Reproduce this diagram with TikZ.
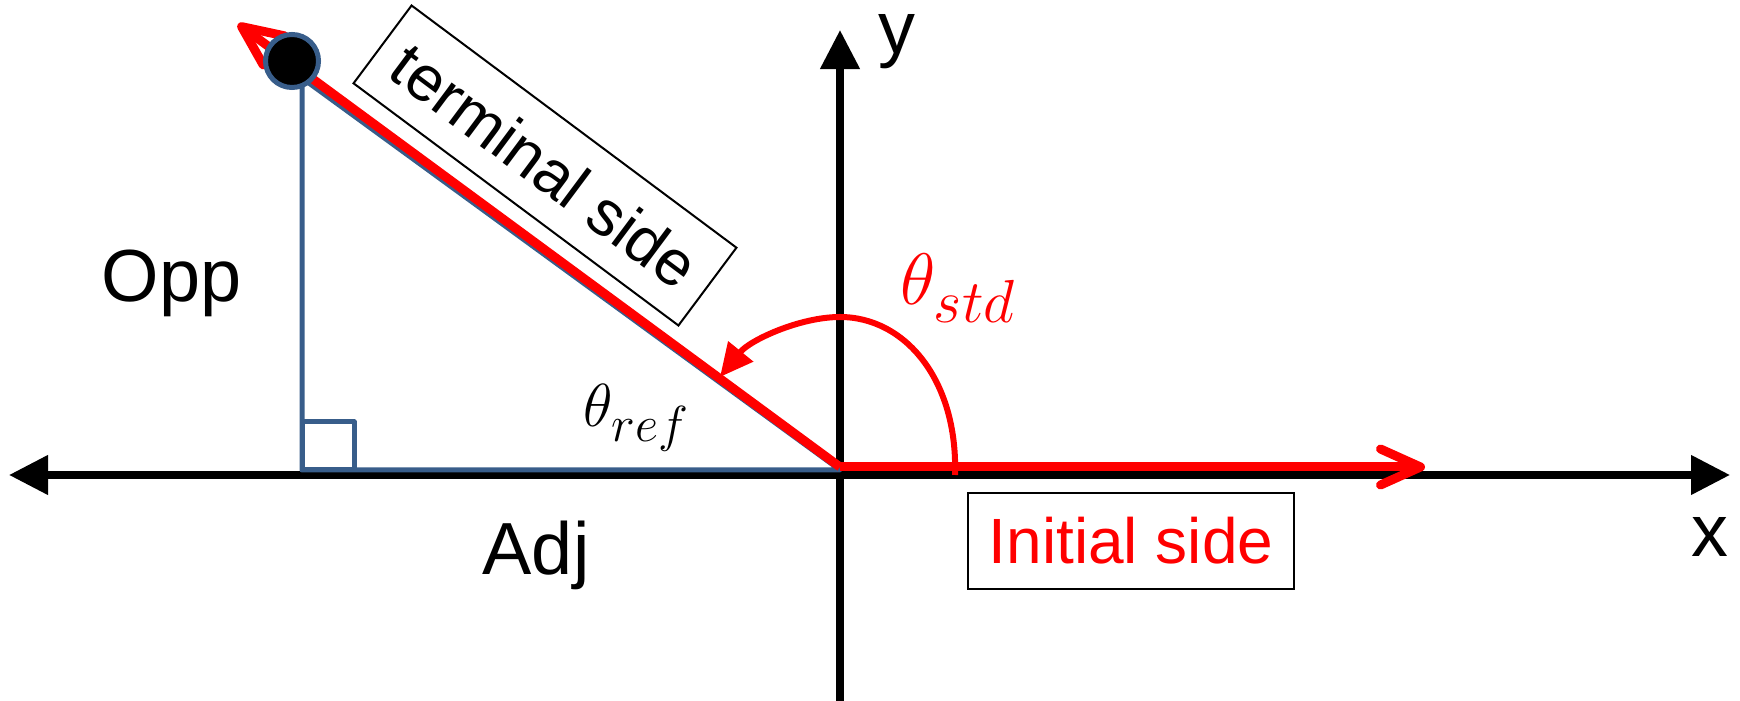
\documentclass[tikz,border=0pt]{standalone}
\usepackage{fontspec}
\setmainfont{Liberation Sans}
\usepackage{xcolor}
\usetikzlibrary{arrows.meta,positioning}
\DeclareMathSizes{17.9}{17.9}{14.3}{11}
\DeclareMathSizes{22.7}{22.7}{18.2}{14}
\definecolor{steel}{HTML}{385D8A}
\definecolor{vivid}{HTML}{FF0000}
\tikzset{
  ax/.style   ={{Triangle[length=3.9mm,width=3.8mm]}-{Triangle[length=3.9mm,width=3.8mm]}, line width=0.75mm},
  axup/.style ={-{Triangle[length=3.9mm,width=3.8mm]}, line width=0.75mm},
  tri/.style  ={draw=steel, line width=0.5mm, line join=round},
  ray/.style  ={-{Straight Barb[round,length=4mm,width=3.6mm]}, vivid, line width=0.9mm},
  sweep/.style={-{Triangle[length=3.3mm,width=3.1mm]}, vivid, line width=0.6mm},
  pt/.style   ={circle, fill=black, draw=steel, line width=0.5mm, minimum size=5.3mm, inner sep=0pt},
  lab/.style  ={inner sep=0pt, font=\fontsize{21}{25}\selectfont},
  sidebox/.style={draw, line width=0.2mm, inner sep=0pt, font=\fontsize{18.2}{22}\selectfont},
  ang/.style  ={inner sep=0pt},
}

\begin{document}
\begin{tikzpicture}[x=0.01cm,y=-0.01cm]
  \useasboundingbox (0,0) rectangle (1740,701);
  \coordinate (O)  at (840,475);
  \coordinate (xl) at (9,475);
  \coordinate (xr) at (1730,475);
  \coordinate (yb) at (840,701);
  \coordinate (yt) at (840,30);
  \coordinate (T)  at (302,78);
  \coordinate (F)  at (302,470);
  \coordinate (Ob) at (840,470);
  \coordinate (Oi) at (840,467);
  \coordinate (Ti) at (238,24);
  \coordinate (Ie) at (1425,467);
  % axes
  \draw[ax] (xl) -- (xr);
  \draw[axup] (yb) -- (yt);
  % reference triangle
  \draw[tri] (T) -- (F) -- (Ob) -- cycle;
  \draw[tri] (F) rectangle ++(52,-48);
  % initial and terminal sides
  \draw[ray] (Oi) -- (Ie);
  \draw[ray] (Oi) -- (Ti);
  \node[pt] (P) at (292,61) {};
  % standard angle
  \coordinate (s0) at (955,475);
  \coordinate (s1) at (840,317);
  \coordinate (s2) at (720,377);
  \draw[sweep] (s0) .. controls (958,380) and (905,317) .. (s1)
                    .. controls (800,317) and (750,340) .. (s2);
  % labels
  \node[lab, anchor=base west] (opp) at (101,302) {Opp};
  \node[lab, anchor=base west] (adj) at (482,575) {Adj};
  \node[lab, anchor=base west] (xlab) at (1691,557) {x};
  \node[lab, anchor=base west] (ylab) at (878,54) {y};
  \node[sidebox, rotate=-36.7, minimum width=4.05cm, minimum height=0.97cm] (term) at (545,165.5) {terminal side};
  \node[sidebox, text=vivid, minimum width=3.26cm, minimum height=0.96cm] (init) at (1131,541) {Initial side};
  \node[ang, anchor=base west, text=vivid, font=\fontsize{22.7}{26}\selectfont] (tstd) at (900,305) {$\theta_{std}$};
  \node[ang, anchor=base west, font=\fontsize{17.9}{22}\selectfont] (tref) at (583,427) {$\theta_{ref}$};
\end{tikzpicture}
\end{document}
